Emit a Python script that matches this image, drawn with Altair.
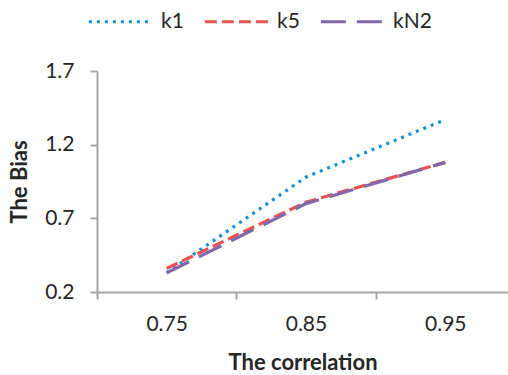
import altair as alt
import pandas as pd

# Bias of each estimator at three levels of correlation
correlation = [0.75, 0.85, 0.95]
k1 = [0.33, 0.98, 1.37]
k5 = [0.36, 0.81, 1.08]
kN2 = [0.33, 0.80, 1.08]

series_names = ["k1", "k5", "kN2"]
series_colors = ["#1592d4", "#e9524e", "#8467a9"]
series_dashes = [[3, 5], [12, 5], [25, 11]]

rows = []
for name, values in zip(series_names, [k1, k5, kN2]):
    for c, v in zip(correlation, values):
        rows.append({"correlation": c, "bias": v, "series": name})
df = pd.DataFrame(rows)

FONT = "Lato"
GRAY = "#a6a6a6"
label_test = "abs((datum.value * 20) % 2 - 1) < 0.01"

chart = (
    alt.Chart(df)
    .mark_line(strokeWidth=3.2, strokeCap="butt")
    .encode(
        x=alt.X(
            "correlation:Q",
            scale=alt.Scale(domain=[0.7, 0.995], nice=False, zero=False),
            axis=alt.Axis(
                title="The correlation",
                values=[0.7, 0.75, 0.8, 0.85, 0.9, 0.95],
                labelExpr=f"{label_test} ? format(datum.value, '.2f') : ''",
                tickOpacity={"condition": {"test": label_test, "value": 0}, "value": 1},
                grid=False,
                tickSize=7,
                labelPadding=14,
                titlePadding=18,
            ),
        ),
        y=alt.Y(
            "bias:Q",
            scale=alt.Scale(domain=[0.2, 1.7], nice=False, zero=False),
            axis=alt.Axis(
                title="The Bias",
                values=[0.2, 0.7, 1.2, 1.7],
                format=".1f",
                grid=False,
                tickSize=7,
                labelPadding=16,
                titlePadding=13,
            ),
        ),
        color=alt.Color(
            "series:N",
            scale=alt.Scale(domain=series_names, range=series_colors),
            legend=alt.Legend(
                title=None,
                orient="none",
                direction="horizontal",
                legendX=-10,
                legendY=-83,
                symbolType="stroke",
                symbolSize=4000,
                symbolStrokeWidth=3.2,
                labelOffset=7,
                columnPadding=14,
            ),
        ),
        strokeDash=alt.StrokeDash(
            "series:N",
            scale=alt.Scale(domain=series_names, range=series_dashes),
            legend=None,
        ),
    )
    .properties(
        width=411,
        height=221,
        padding={"left": 97, "top": 71, "right": 0, "bottom": 83},
        autosize=alt.AutoSizeParams(type="none"),
    )
    .configure_view(stroke=None)
    .configure_axis(
        domainColor=GRAY,
        domainWidth=2,
        tickColor=GRAY,
        tickWidth=2,
        labelFont=FONT,
        labelFontSize=21,
        labelColor="#262626",
        titleFont=FONT,
        titleFontSize=22,
        titleFontWeight="bold",
        titleColor="#262626",
    )
    .configure_legend(labelFont=FONT, labelFontSize=21, labelColor="#262626")
)

chart.save("out.html", embed_options={"renderer": "svg", "actions": False})
